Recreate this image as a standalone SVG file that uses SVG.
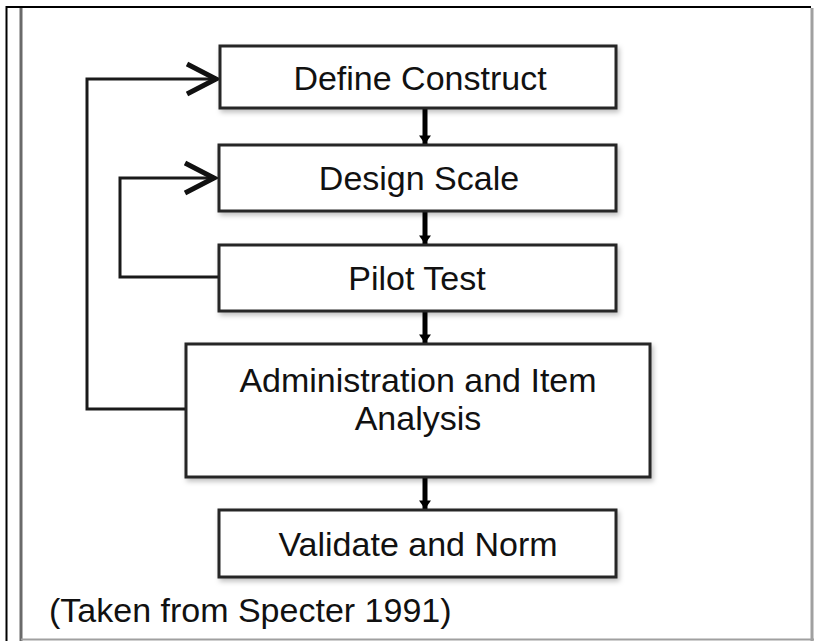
<svg xmlns="http://www.w3.org/2000/svg" width="814" height="641" viewBox="0 0 814 641">
<style>
.box{fill:#fff;stroke:#262626;stroke-width:3}
.lbl{font-family:"Liberation Sans",Arial,sans-serif;font-size:34px;fill:#111;text-anchor:middle}
.loop{fill:none;stroke:#1a1a1a;stroke-width:3}
.down{stroke:#000;stroke-width:5}
</style>
<defs>
<filter id="sh" x="-10%" y="-10%" width="130%" height="140%">
<feDropShadow dx="2" dy="3" stdDeviation="2.5" flood-color="#000" flood-opacity="0.25"/>
</filter>
<marker id="chev" markerUnits="userSpaceOnUse" markerWidth="40" markerHeight="40" refX="32" refY="17" orient="auto" viewBox="0 0 40 34">
<polyline points="3,2 32,17 3,32" fill="none" stroke="#111" stroke-width="5" stroke-linejoin="miter"/>
</marker>
<marker id="tri" markerUnits="userSpaceOnUse" markerWidth="16" markerHeight="12" refX="10" refY="7" orient="auto" viewBox="0 0 10 14">
<path d="M0,0 L10,7 L0,14 Z" fill="#000"/>
</marker>
</defs>
<rect width="814" height="641" fill="#fff"/>
<g id="frame" fill="none">
<polyline points="6.5,641 6.5,7 811,7" stroke="#000" stroke-width="2"/>
<line x1="21" y1="8" x2="21" y2="641" stroke="#6a6a6a" stroke-width="3"/>
<line x1="812" y1="8" x2="812" y2="641" stroke="#a0a0a0" stroke-width="3"/>
<line x1="21" y1="639.5" x2="814" y2="639.5" stroke="#a0a0a0" stroke-width="2"/>
</g>
<g id="connectors">
<polyline class="loop" points="186,409 87,409 87,79 216,79" marker-end="url(#chev)"/>
<polyline class="loop" points="218,277 120,277 120,178 214,178" marker-end="url(#chev)"/>
<line class="down" x1="425" y1="109" x2="425" y2="144" marker-end="url(#tri)"/>
<line class="down" x1="425" y1="212" x2="425" y2="244" marker-end="url(#tri)"/>
<line class="down" x1="425" y1="312" x2="425" y2="343" marker-end="url(#tri)"/>
<line class="down" x1="425" y1="478" x2="425" y2="509" marker-end="url(#tri)"/>
</g>
<g id="define-construct">
<rect class="box" x="220" y="46" width="396" height="62" filter="url(#sh)"/>
<text class="lbl" x="420" y="90">Define Construct</text>
</g>
<g id="design-scale">
<rect class="box" x="219" y="145" width="397" height="66" filter="url(#sh)"/>
<text class="lbl" x="419" y="190">Design Scale</text>
</g>
<g id="pilot-test">
<rect class="box" x="219" y="245" width="397" height="66" filter="url(#sh)"/>
<text class="lbl" x="417" y="290">Pilot Test</text>
</g>
<g id="administration">
<rect class="box" x="186" y="344" width="464" height="133" filter="url(#sh)"/>
<text class="lbl" x="418" y="392">Administration and Item</text>
<text class="lbl" x="418" y="430">Analysis</text>
</g>
<g id="validate">
<rect class="box" x="219" y="510" width="397" height="67" filter="url(#sh)"/>
<text class="lbl" x="418" y="556">Validate and Norm</text>
</g>
<text id="source" x="49" y="622" font-family="'Liberation Sans',Arial,sans-serif" font-size="34" fill="#111">(Taken from Specter 1991)</text>
</svg>
